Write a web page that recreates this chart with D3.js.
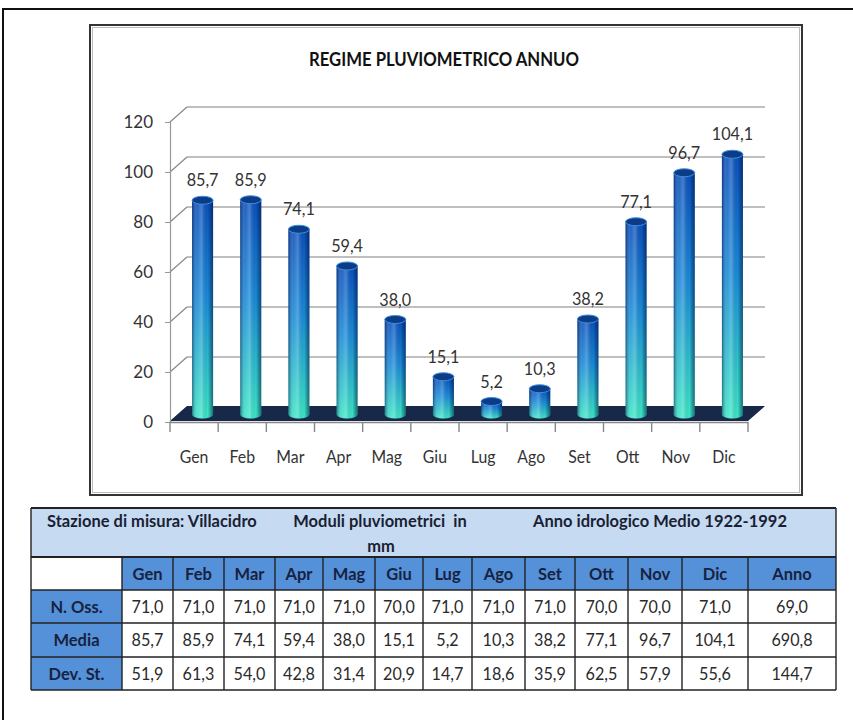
<!DOCTYPE html>
<html>
<head>
<meta charset="utf-8">
<script src="https://cdn.jsdelivr.net/npm/d3@7/dist/d3.min.js"></script>
<style>
  html, body { margin: 0; padding: 0; background: #fff; }
  svg { display: block; }
  text { font-family: Lato, "Open Sans", sans-serif; }
</style>
</head>
<body>
<svg id="chart" width="853" height="720"></svg>
<script>
// ---------- DATA ----------
const months = ["Gen","Feb","Mar","Apr","Mag","Giu","Lug","Ago","Set","Ott","Nov","Dic"];
const media = [85.7, 85.9, 74.1, 59.4, 38.0, 15.1, 5.2, 10.3, 38.2, 77.1, 96.7, 104.1];
const nOss = [71.0, 71.0, 71.0, 71.0, 71.0, 70.0, 71.0, 71.0, 71.0, 70.0, 70.0, 71.0];
const devSt = [51.9, 61.3, 54.0, 42.8, 31.4, 20.9, 14.7, 18.6, 35.9, 62.5, 57.9, 55.6];
const annoTotals = { nOss: 69.0, media: 690.8, devSt: 144.7 };
const yTicks = [0, 20, 40, 60, 80, 100, 120];
const chartTitle = "REGIME PLUVIOMETRICO ANNUO";
const tableHeader = ["Stazione di misura: Villacidro", "Moduli pluviometrici  in", "mm", "Anno idrologico Medio 1922-1992"];
const rowLabels = ["N. Oss.", "Media", "Dev. St."];
const annoLabel = "Anno";

// ---------- SETUP ----------
const svg = d3.select("#chart");
const it = d3.formatLocale({decimal: ",", thousands: ".", grouping: [3], currency: ["", "€"]});
const fmt = it.format(".1f");

// condense text horizontally (the original uses a narrow face)
function squeeze(sel, k) {
  sel.each(function() {
    const w = this.getComputedTextLength();
    if (w > 0) d3.select(this).attr("textLength", (w * k).toFixed(1)).attr("lengthAdjust", "spacingAndGlyphs");
  });
  return sel;
}

// outer page frame
svg.append("path").attr("d", "M3,900 L3,9 L900,9").attr("fill", "none").attr("stroke", "#111").attr("stroke-width", 2);

// chart box
svg.append("rect").attr("x", 90).attr("y", 25).attr("width", 712).attr("height", 470)
  .attr("fill", "#fff").attr("stroke", "#333").attr("stroke-width", 2);
svg.append("rect").attr("x", 92.5).attr("y", 27.5).attr("width", 707).attr("height", 465)
  .attr("fill", "none").attr("stroke", "#bbb").attr("stroke-width", 1);

svg.append("text").attr("x", 444).attr("y", 66).attr("text-anchor", "middle")
  .attr("font-size", 18).attr("font-weight", "bold").attr("fill", "#111").text(chartTitle)
  .call(s => s.attr("textLength", 270).attr("lengthAdjust", "spacingAndGlyphs"));

// ---------- SCALES ----------
const depthX = 17, depthY = -15;
const x = d3.scaleBand().domain(months).range([170, 748]).paddingInner(0).paddingOuter(0);
const y = d3.scaleLinear().domain([0, 120]).range([422, 122]);

const defs = svg.append("defs");
const gV = defs.append("linearGradient").attr("id", "gV").attr("x1", 0).attr("y1", 0).attr("x2", 0).attr("y2", 1);
[["0", "#0a50bc"], ["0.45", "#1a8ad8"], ["1", "#3ce6c6"]].forEach(s => gV.append("stop").attr("offset", s[0]).attr("stop-color", s[1]));
const gH = defs.append("linearGradient").attr("id", "gH").attr("x1", 0).attr("y1", 0).attr("x2", 1).attr("y2", 0);
[["0", "#001040", 0.5], ["0.25", "#ffffff", 0.1], ["0.45", "#ffffff", 0.25], ["0.75", "#000000", 0.0], ["1", "#001040", 0.55]]
  .forEach(s => gH.append("stop").attr("offset", s[0]).attr("stop-color", s[1]).attr("stop-opacity", s[2]));

// ---------- GRID (back wall) ----------
const grid = svg.append("g");
grid.selectAll("line.g").data(yTicks.filter(t => t > 0)).join("line")
  .attr("x1", 170 + depthX).attr("x2", 748 + depthX)
  .attr("y1", d => y(d) + depthY).attr("y2", d => y(d) + depthY)
  .attr("stroke", "#aaa").attr("stroke-width", 1.6);
grid.selectAll("line.d").data(yTicks).join("line")
  .attr("x1", 170).attr("y1", d => y(d))
  .attr("x2", 170 + depthX).attr("y2", d => y(d) + depthY)
  .attr("stroke", "#888").attr("stroke-width", 1.2);

// floor
const f0 = y(0);
svg.append("path")
  .attr("d", `M${170},${f0 - 1} L${748},${f0 - 1} L${748 + depthX},${f0 - 1 + depthY} L${170 + depthX},${f0 - 1 + depthY} Z`)
  .attr("fill", "#182848");

// ---------- AXES ----------
const yAxis = svg.append("g").attr("transform", "translate(170,0)")
  .call(d3.axisLeft(y).tickValues(yTicks).tickSize(5).tickPadding(12));
yAxis.select(".domain").attr("stroke", "#999").attr("stroke-width", 1.2);
yAxis.selectAll(".tick line").attr("stroke", "#999");
yAxis.selectAll(".tick text").attr("font-size", 17).attr("fill", "#333").style("font-family", "Lato, sans-serif");

const xAxis = svg.append("g").attr("transform", `translate(0,${f0})`)
  .call(d3.axisBottom(x).tickSize(0).tickPadding(29));
xAxis.select(".domain").attr("stroke", "#888").attr("stroke-width", 1.4);
xAxis.selectAll(".tick text").attr("font-size", 17).attr("fill", "#333").style("font-family", "Lato, sans-serif")
  .call(squeeze, 0.93);
svg.append("g").selectAll("line").data(months.concat(["_end"])).join("line")
  .attr("x1", d => d === "_end" ? x.range()[1] : x(d))
  .attr("x2", d => d === "_end" ? x.range()[1] : x(d))
  .attr("y1", f0).attr("y2", f0 + 10).attr("stroke", "#888").attr("stroke-width", 1.4);

// ---------- BARS (cylinders) ----------
const r = 10.5, ry = 4;
const bars = svg.append("g").selectAll("g").data(months.map((m, i) => ({m, v: media[i]}))).join("g");
bars.each(function(d) {
  const g = d3.select(this);
  const cx = x(d.m) + x.bandwidth() / 2 + depthX / 2;
  const yb = y(0) + depthY / 2;
  const yt = y(d.v) + depthY / 2;
  const body = `M${cx - r},${yt} L${cx - r},${yb} A${r},${ry} 0 0 0 ${cx + r},${yb} L${cx + r},${yt} Z`;
  g.append("path").attr("d", body).attr("fill", "url(#gV)");
  g.append("path").attr("d", body).attr("fill", "url(#gH)");
  g.append("ellipse").attr("cx", cx).attr("cy", yt).attr("rx", r).attr("ry", ry)
    .attr("fill", "#0c3c86").attr("stroke", "#3d8fe0").attr("stroke-width", 1);
  g.append("text").attr("class", "lbl").attr("x", cx).attr("y", yt - 14).attr("text-anchor", "middle")
    .attr("font-size", 18).attr("fill", "#333").text(fmt(d.v));
});
svg.selectAll("text.lbl").call(squeeze, 0.9);

// ---------- TABLE ----------
const colEdges = [31, 122, 173, 224, 275, 323, 375, 423, 472, 525, 575, 628, 682, 748, 836];
const rowEdges = [508, 557, 590, 623, 657, 690];
const tbl = svg.append("g");
const fs = 17;
const kBold = 0.97, kReg = 0.95;

// header band
tbl.append("rect").attr("x", colEdges[0]).attr("y", rowEdges[0])
  .attr("width", colEdges[14] - colEdges[0]).attr("height", rowEdges[1] - rowEdges[0]).attr("fill", "#c6daf2");
const hdr = tbl.append("g").attr("font-size", fs).attr("font-weight", "bold").attr("fill", "#1a1f33");
hdr.append("text").attr("x", 47).attr("y", 527).text(tableHeader[0]);
hdr.append("text").attr("x", 380).attr("y", 527).attr("text-anchor", "middle").attr("xml:space", "preserve").text(tableHeader[1]);
hdr.append("text").attr("x", 381).attr("y", 552).attr("text-anchor", "middle").text(tableHeader[2]);
hdr.append("text").attr("x", 660).attr("y", 527).attr("text-anchor", "middle").text(tableHeader[3]);
hdr.selectAll("text").call(squeeze, kBold);

// column header row
const headCols = months.concat([annoLabel]);
const rows = [
  {label: rowLabels[0], vals: nOss.concat([annoTotals.nOss])},
  {label: rowLabels[1], vals: media.concat([annoTotals.media])},
  {label: rowLabels[2], vals: devSt.concat([annoTotals.devSt])}
];
const cellFill = "#5591d8";
tbl.append("rect").attr("x", colEdges[0]).attr("y", rowEdges[1]).attr("width", colEdges[1] - colEdges[0]).attr("height", rowEdges[2] - rowEdges[1]).attr("fill", "#fff");
tbl.selectAll("rect.h").data(headCols).join("rect")
  .attr("x", (d, i) => colEdges[i + 1]).attr("y", rowEdges[1])
  .attr("width", (d, i) => colEdges[i + 2] - colEdges[i + 1]).attr("height", rowEdges[2] - rowEdges[1])
  .attr("fill", cellFill);
tbl.append("g").selectAll("text").data(headCols).join("text")
  .attr("x", (d, i) => (colEdges[i + 1] + colEdges[i + 2]) / 2).attr("y", (rowEdges[1] + rowEdges[2]) / 2 + 6)
  .attr("text-anchor", "middle").attr("font-size", fs).attr("font-weight", "bold").attr("fill", "#172240").text(d => d)
  .call(squeeze, kBold);

rows.forEach((row, ri) => {
  const y0 = rowEdges[ri + 2], y1 = rowEdges[ri + 3];
  tbl.append("rect").attr("x", colEdges[0]).attr("y", y0).attr("width", colEdges[1] - colEdges[0]).attr("height", y1 - y0).attr("fill", cellFill);
  tbl.append("text").attr("x", (colEdges[0] + colEdges[1]) / 2).attr("y", (y0 + y1) / 2 + 6).attr("text-anchor", "middle")
    .attr("font-size", fs).attr("font-weight", "bold").attr("fill", "#172240").text(row.label)
    .call(squeeze, kBold);
  tbl.append("g").selectAll("text").data(row.vals).join("text")
    .attr("x", (d, i) => (colEdges[i + 1] + colEdges[i + 2]) / 2).attr("y", (y0 + y1) / 2 + 6)
    .attr("text-anchor", "middle").attr("font-size", fs).attr("fill", "#2a2a2a").text(d => fmt(d))
    .call(squeeze, kReg);
});

// grid lines of table
const lineCol = "#222";
rowEdges.forEach((ry, i) => {
  tbl.append("line").attr("x1", colEdges[0]).attr("x2", colEdges[14]).attr("y1", ry).attr("y2", ry)
    .attr("stroke", lineCol).attr("stroke-width", i === 0 || i === 1 ? 1.8 : 1.4);
});
colEdges.forEach((cx, i) => {
  const top = (i === 0 || i === 14) ? rowEdges[0] : rowEdges[1];
  tbl.append("line").attr("x1", cx).attr("x2", cx).attr("y1", top).attr("y2", rowEdges[5])
    .attr("stroke", lineCol).attr("stroke-width", 1.4);
});
</script>
</body>
</html>
